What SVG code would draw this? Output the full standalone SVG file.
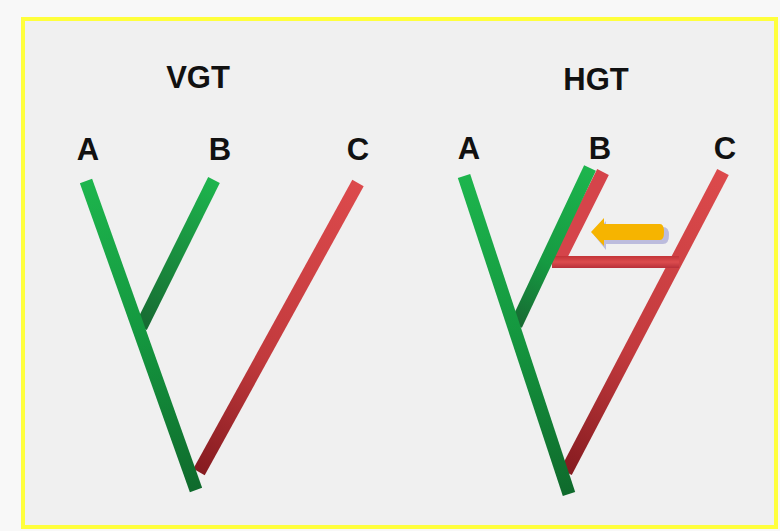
<svg xmlns="http://www.w3.org/2000/svg" width="780" height="531" viewBox="0 0 780 531">
<defs>
<style>
.lbl{font-family:"Liberation Sans",Arial,sans-serif;font-weight:bold;font-size:31px;fill:#111;text-anchor:middle}
.ttl{font-family:"Liberation Sans",Arial,sans-serif;font-weight:bold;font-size:31px;fill:#111;text-anchor:middle}
.br{stroke-width:13;stroke-linecap:butt;fill:none}
</style>
<linearGradient id="gA1" gradientUnits="userSpaceOnUse" x1="86" y1="181" x2="196" y2="490"><stop offset="0" stop-color="#1db54d"/><stop offset="0.5" stop-color="#14973f"/><stop offset="1" stop-color="#0f6a2c"/></linearGradient>
<linearGradient id="gB1" gradientUnits="userSpaceOnUse" x1="214" y1="180" x2="141" y2="327"><stop offset="0" stop-color="#1db54d"/><stop offset="1" stop-color="#176a32"/></linearGradient>
<linearGradient id="gC1" gradientUnits="userSpaceOnUse" x1="358" y1="183" x2="199" y2="472"><stop offset="0" stop-color="#dc4a4c"/><stop offset="0.6" stop-color="#c23a3d"/><stop offset="1" stop-color="#861b20"/></linearGradient>
<linearGradient id="gA2" gradientUnits="userSpaceOnUse" x1="464" y1="176" x2="569" y2="494"><stop offset="0" stop-color="#1db54d"/><stop offset="0.5" stop-color="#14973f"/><stop offset="1" stop-color="#0f6a2c"/></linearGradient>
<linearGradient id="gB2" gradientUnits="userSpaceOnUse" x1="590" y1="168" x2="516" y2="325"><stop offset="0" stop-color="#1db54d"/><stop offset="0.6" stop-color="#169a42"/><stop offset="1" stop-color="#176a32"/></linearGradient>
<linearGradient id="gC2" gradientUnits="userSpaceOnUse" x1="723" y1="172" x2="566" y2="472"><stop offset="0" stop-color="#dc4a4c"/><stop offset="0.6" stop-color="#c23a3d"/><stop offset="1" stop-color="#861b20"/></linearGradient>
<linearGradient id="gBar" x1="0" y1="0" x2="0" y2="1"><stop offset="0" stop-color="#c23438"/><stop offset="0.5" stop-color="#dc4c4e"/><stop offset="1" stop-color="#b8303a"/></linearGradient>
</defs>
<rect x="0" y="0" width="780" height="531" fill="#f8f8f8"/>
<rect x="23" y="19" width="753" height="508" fill="#f0f0f0" stroke="#ffff3c" stroke-width="4"/>
<g id="title-vgt"><text class="ttl" x="198" y="88">VGT</text></g>
<g id="title-hgt"><text class="ttl" x="596" y="90">HGT</text></g>
<g id="vgt-a"><text class="lbl" x="88" y="160">A</text></g>
<g id="vgt-b"><text class="lbl" x="220" y="160">B</text></g>
<g id="vgt-c"><text class="lbl" x="358" y="160">C</text></g>
<g id="hgt-a"><text class="lbl" x="469" y="159">A</text></g>
<g id="hgt-b"><text class="lbl" x="600" y="159">B</text></g>
<g id="hgt-c"><text class="lbl" x="725" y="159">C</text></g>
<g id="connectors">
<line class="br" x1="358" y1="183" x2="199" y2="472" stroke="url(#gC1)"/>
<line class="br" x1="214" y1="180" x2="141" y2="327" stroke="url(#gB1)"/>
<line class="br" x1="86" y1="181" x2="196" y2="490" stroke="url(#gA1)"/>
<line class="br" x1="723" y1="172" x2="566" y2="472" stroke="url(#gC2)"/>
<line class="br" x1="603" y1="172" x2="558" y2="262" stroke="#d5444a"/>
<rect x="552" y="256" width="127" height="12" fill="url(#gBar)"/>
<line class="br" x1="590" y1="168" x2="516" y2="325" stroke="url(#gB2)"/>
<line class="br" x1="464" y1="176" x2="569" y2="494" stroke="url(#gA2)"/>
</g>
<g id="arrow">
<path d="M594,235 L606,221 L606,227 L663,227 Q669,227 669,235 Q669,244 663,244 L606,244 L606,250 Z" fill="#9a9ad0" opacity="0.6"/>
<path d="M591,232 L604,218 L604,224 L660,224 Q664,224 664,232 Q664,240 660,240 L604,240 L604,246 Z" fill="#f6b400"/>
</g>
</svg>
